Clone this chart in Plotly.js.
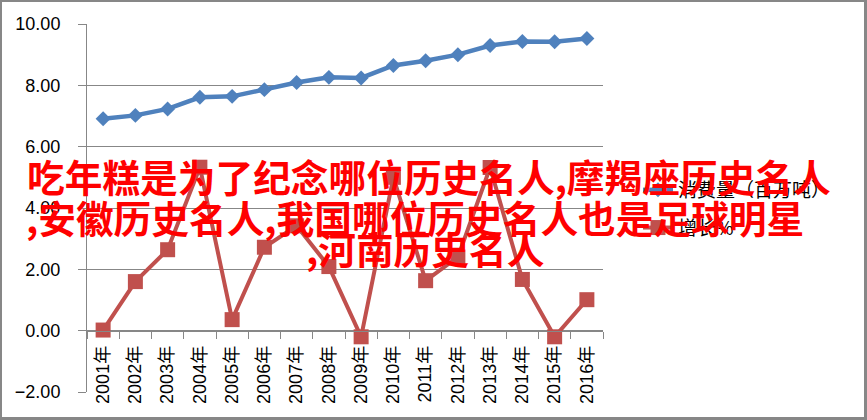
<!DOCTYPE html>
<html>
<head>
<meta charset="utf-8">
<script src="https://cdn.plot.ly/plotly-3.0.1.min.js"></script>
<style>
  html, body { margin: 0; padding: 0; background: #fff; }
  #wrap { position: relative; width: 867px; height: 420px; }
  #chart { width: 867px; height: 420px; }
  #frame { position: absolute; left: 0; top: 0; width: 867px; height: 420px; box-sizing: border-box;
           border-style: solid; border-color: #878787; border-width: 2px 3px 3px 2px; pointer-events: none; }
</style>
</head>
<body>
<div id="wrap">
  <div id="chart"></div>
  <div id="frame"></div>
</div>
<script>
// ---- data ----
const years = ['2001年','2002年','2003年','2004年','2005年','2006年','2007年','2008年',
               '2009年','2010年','2011年','2012年','2013年','2014年','2015年','2016年'];
const consumption = [6.91, 7.02, 7.23, 7.61, 7.64, 7.86, 8.09, 8.26, 8.24, 8.65, 8.80, 9.00, 9.30, 9.43, 9.42, 9.53];
const growth = [0.02, 1.60, 2.64, 5.33, 0.36, 2.72, 3.42, 2.09, -0.20, 5.00, 1.63, 2.40, 5.32, 1.67, -0.20, 1.01];
const seriesNames = ['消费量（百万吨）', '增长%'];
const yTicks = [-2, 0, 2, 4, 6, 8, 10];
const overlayLines = ['吃年糕是为了纪念哪位历史名人,摩羯座历史名人',
                      ',安徽历史名人,我国哪位历史名人也是足球明星',
                      ',河南历史名人'];

// ---- layout helpers (pixel -> paper) ----
const L = 87, R = 264, T = 24, B = 28, W = 867, H = 420;
const pw = W - L - R, ph = H - T - B;
const px = x => (x - L) / pw;
const py = y => (H - B - y) / ph;

const latin = 'Liberation Sans, Noto Sans CJK SC, sans-serif';
const cjkBold = { family: 'Noto Sans CJK SC, sans-serif', size: 37.7, color: '#ff0000', weight: 700 };

const traces = [
  { x: years, y: consumption, name: seriesNames[0], type: 'scatter', mode: 'lines+markers',
    legendgroup: 'a',
    line: { color: '#4F81BD', width: 4.5 },
    marker: { symbol: 'diamond', size: 11.5, color: '#4F81BD' } },
  { x: years, y: growth, name: seriesNames[1], type: 'scatter', mode: 'lines+markers',
    legendgroup: 'b',
    line: { color: '#C0504D', width: 4 },
    marker: { symbol: 'square', size: 15, color: '#C0504D' } }
];

const layout = {
  width: W, height: H,
  margin: { l: L, r: R, t: T, b: B, pad: 0 },
  paper_bgcolor: '#fff', plot_bgcolor: '#fff',
  showlegend: true,
  legend: { x: px(638), xanchor: 'left', y: py(171), yanchor: 'top',
            font: { family: 'Noto Sans CJK SC, sans-serif', size: 19, color: '#000' },
            tracegroupgap: 10, bgcolor: 'rgba(0,0,0,0)' },
  xaxis: {
    type: 'category', anchor: 'free', position: (0 - (-2)) / 12,
    showline: true, linecolor: '#878787', linewidth: 1,
    ticks: 'outside', ticklen: 7, tickcolor: '#878787', tickson: 'boundaries',
    showgrid: false, tickangle: -90, automargin: false,
    tickfont: { family: latin, size: 18, color: '#000' },
    ticklabelstandoff: 7,
    range: [-0.5, years.length - 0.5]
  },
  yaxis: {
    range: [-2, 10], tickvals: yTicks, tickformat: '.2f',
    showline: true, linecolor: '#878787', linewidth: 1,
    ticks: 'outside', ticklen: 8, tickcolor: '#878787',
    showgrid: true, gridcolor: '#878787', gridwidth: 1, zeroline: false,
    tickfont: { family: latin, size: 18, color: '#000' },
    ticklabelstandoff: 14
  },
  annotations: [
    { text: overlayLines[0], xref: 'paper', yref: 'paper', x: px(25), y: py(175), xanchor: 'left', yanchor: 'middle', showarrow: false, font: cjkBold },
    { text: overlayLines[1], xref: 'paper', yref: 'paper', x: px(24), y: py(216), xanchor: 'left', yanchor: 'middle', showarrow: false, font: cjkBold },
    { text: overlayLines[2], xref: 'paper', yref: 'paper', x: px(304), y: py(247), xanchor: 'left', yanchor: 'middle', showarrow: false, font: cjkBold }
  ]
};

Plotly.newPlot('chart', traces, layout, { displayModeBar: false, staticPlot: true });
</script>
</body>
</html>
